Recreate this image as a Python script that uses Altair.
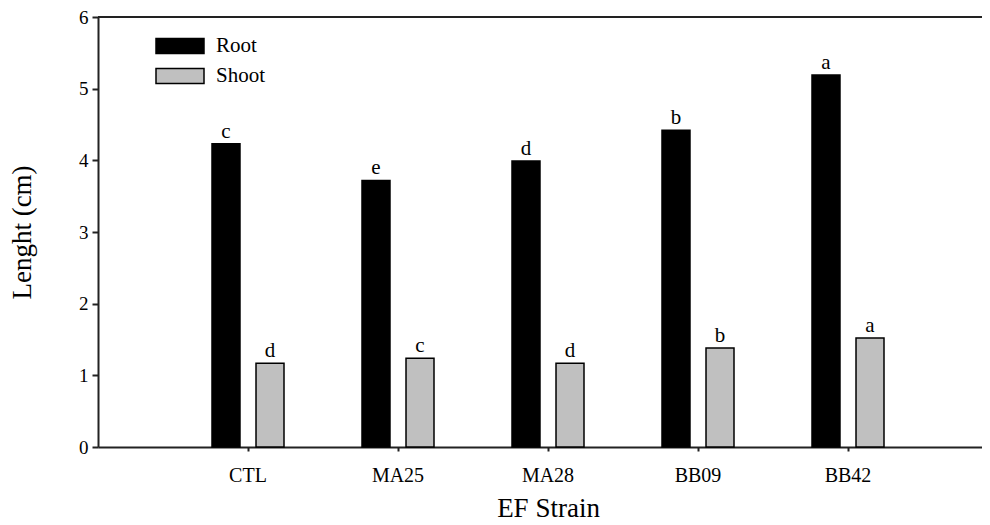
import altair as alt
import pandas as pd

strains = ["CTL", "MA25", "MA28", "BB09", "BB42"]
root = [4.23, 3.72, 3.99, 4.42, 5.19]
shoot = [1.17, 1.24, 1.17, 1.38, 1.52]
root_letters = ["c", "e", "d", "b", "a"]
shoot_letters = ["d", "c", "d", "b", "a"]
parts = ["Root", "Shoot"]
y_ticks = [0, 1, 2, 3, 4, 5, 6]

rows = []
for i, s in enumerate(strains):
    rows.append({"strain": s, "part": "Root", "value": root[i], "letter": root_letters[i]})
    rows.append({"strain": s, "part": "Shoot", "value": shoot[i], "letter": shoot_letters[i]})
df = pd.DataFrame(rows)

FONT = "Liberation Serif"

x = alt.X(
    "strain:N", sort=strains,
    scale=alt.Scale(range=[0, 900], paddingInner=0, paddingOuter=0.5),
    axis=alt.Axis(title="EF Strain", labelAngle=0, labelFontSize=20, labelPadding=14,
                  tickSize=4, tickWidth=2, titleFontSize=27, titlePadding=10,
                  domainWidth=2),
)
xo = alt.XOffset("part:N", sort=parts,
                 scale=alt.Scale(paddingInner=0.364, paddingOuter=0.886))
y = alt.Y(
    "value:Q", scale=alt.Scale(domain=[0, 6], nice=False),
    axis=alt.Axis(values=y_ticks, format="d", title="Lenght (cm)", labelFontSize=19,
                  tickSize=6, tickWidth=2, domainWidth=2, labelPadding=4,
                  titleFontSize=27, titlePadding=42, grid=False),
)
color = alt.Color(
    "part:N", sort=parts,
    scale=alt.Scale(domain=parts, range=["#000000", "#c0c0c0"]),
    legend=alt.Legend(orient="none", legendX=66, legendY=13, title=None, padding=0,
                      symbolType="M-1.6,-0.5H1.6V0.5H-1.6Z", symbolSize=900,
                      symbolStrokeColor="black", symbolStrokeWidth=1.5,
                      labelFont=FONT, labelFontSize=21, labelColor="black",
                      labelOffset=20, rowPadding=3),
)

bars = alt.Chart(df).mark_bar(stroke="black", strokeWidth=1.5).encode(
    x=x, xOffset=xo, y=y, color=color)
text = alt.Chart(df).mark_text(dy=-12, fontSize=21, font=FONT, color="black").encode(
    x=x, xOffset=xo, y=y, text="letter:N")
top = alt.Chart(pd.DataFrame({"v": [6]})).mark_rule(color="#222", strokeWidth=2).encode(
    y=alt.Y("v:Q"))

chart = alt.layer(bars, text, top).properties(
    width=884, height=430,
    autosize=alt.AutoSizeParams(type="none"),
    padding={"left": 90, "top": 9, "right": 0, "bottom": 76},
).configure_view(strokeWidth=0).configure_axis(
    labelFont=FONT, titleFont=FONT, labelColor="black", titleColor="black",
    domainColor="#222", tickColor="#222", titleFontWeight="normal",
)

chart.save("out.html", embed_options={"renderer": "svg", "actions": False})
